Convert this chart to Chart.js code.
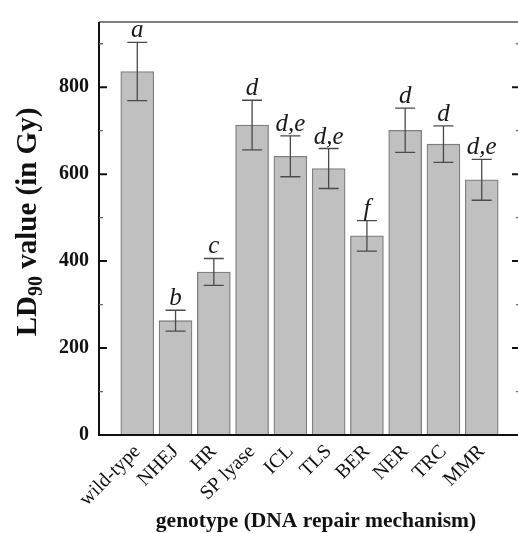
<!DOCTYPE html>
<html>
<head>
<meta charset="utf-8">
<script src="https://cdn.jsdelivr.net/npm/chart.js@4.4.1/dist/chart.umd.min.js"></script>
<style>
  html, body { margin: 0; padding: 0; background: #fff; overflow: hidden; }
  #wrap { width: 522px; height: 533px; }
</style>
</head>
<body>
<div id="wrap"><canvas id="chart" width="522" height="533"></canvas></div>
<script>
const genotypes = ['wild-type', 'NHEJ', 'HR', 'SP lyase', 'ICL', 'TLS', 'BER', 'NER', 'TRC', 'MMR'];
const ld90 = [836, 263, 375, 713, 641, 613, 458, 701, 669, 587];
const ld90Err = [67, 24, 31, 57, 47, 46, 35, 51, 42, 47];
const groups = ['a', 'b', 'c', 'd', 'd,e', 'd,e', 'f', 'd', 'd', 'd,e'];
const yTicks = [0, 200, 400, 600, 800];
const yMinorTicks = [100, 300, 500, 700, 900];

const serif = "'Liberation Serif', 'Times New Roman', serif";

// error bars + group letters
const errorBars = {
    id: 'errorBars',
    afterDatasetsDraw(chart) {
        const ctx = chart.ctx;
        const x = chart.scales.x, y = chart.scales.y;
        ctx.save();
        ld90.forEach((v, i) => {
            const px = x.getPixelForValue(i + 1);
            const top = y.getPixelForValue(v + ld90Err[i]);
            const bot = y.getPixelForValue(v - ld90Err[i]);
            ctx.strokeStyle = '#4a4a4a';
            ctx.lineWidth = 1.3;
            ctx.beginPath();
            ctx.moveTo(px, top); ctx.lineTo(px, bot);
            ctx.moveTo(px - 10, top); ctx.lineTo(px + 10, top);
            ctx.moveTo(px - 10, bot); ctx.lineTo(px + 10, bot);
            ctx.stroke();

            ctx.fillStyle = '#1a1a1a';
            ctx.font = 'italic 25px ' + serif;
            ctx.textAlign = 'center';
            ctx.textBaseline = 'alphabetic';
            ctx.fillText(groups[i], px, top - 5);
        });
        ctx.restore();
    }
};

// frame, inward ticks and axis titles
const frame = {
    id: 'frame',
    afterDraw(chart) {
        const ctx = chart.ctx;
        const a = chart.chartArea;
        const y = chart.scales.y;
        ctx.save();
        // top + right border
        ctx.strokeStyle = '#555';
        ctx.lineWidth = 1.5;
        ctx.beginPath();
        ctx.moveTo(a.left, a.top); ctx.lineTo(a.right, a.top); ctx.lineTo(a.right, a.bottom);
        ctx.stroke();
        // left + bottom axis
        ctx.strokeStyle = '#111';
        ctx.lineWidth = 2;
        ctx.beginPath();
        ctx.moveTo(a.left, a.top); ctx.lineTo(a.left, a.bottom); ctx.lineTo(a.right, a.bottom);
        ctx.stroke();
        // inward ticks
        yTicks.concat(yMinorTicks).forEach(v => {
            const py = y.getPixelForValue(v);
            const major = yTicks.includes(v);
            const len = major ? 8 : 4;
            ctx.lineWidth = major ? 2 : 1.3;
            ctx.strokeStyle = major ? '#111' : '#666';
            ctx.beginPath();
            ctx.moveTo(a.left, py); ctx.lineTo(a.left + len, py);
            ctx.moveTo(a.right, py); ctx.lineTo(a.right - len, py);
            ctx.stroke();
        });

        // y title with subscript
        ctx.fillStyle = '#111';
        ctx.textBaseline = 'alphabetic';
        ctx.textAlign = 'left';
        const big = 'bold 29px ' + serif, small = 'bold 20px ' + serif;
        const parts = [['LD', big, 0], ['90', small, 6], [' value (in Gy)', big, 0]];
        let total = 0;
        parts.forEach(p => { ctx.font = p[1]; total += ctx.measureText(p[0]).width; });
        ctx.translate(36, 222);
        ctx.rotate(-Math.PI / 2);
        let cx = -total / 2;
        parts.forEach(p => {
            ctx.font = p[1];
            ctx.fillText(p[0], cx, p[2]);
            cx += ctx.measureText(p[0]).width;
        });
        ctx.setTransform(1, 0, 0, 1, 0, 0);

        // x title
        ctx.font = 'bold 21.5px ' + serif;
        ctx.textAlign = 'center';
        ctx.fillText('genotype (DNA repair mechanism)', 316, 527);
        ctx.restore();
    }
};

new Chart(document.getElementById('chart'), {
    type: 'bar',
    data: {
        datasets: [{
            data: ld90.map((v, i) => ({ x: i + 1, y: v })),
            backgroundColor: '#c0c0c0',
            borderColor: '#7f7f7f',
            borderWidth: 1.3,
            barThickness: 33
        }]
    },
    options: {
        responsive: false,
        animation: false,
        layout: { padding: { top: 11, right: 2, left: 0, bottom: 0 } },
        plugins: { legend: { display: false }, tooltip: { enabled: false } },
        scales: {
            x: {
                type: 'linear',
                offset: false,
                min: 0, max: 11,
                grid: { display: false, drawTicks: false, offset: false },
                border: { display: false },
                afterBuildTicks: s => { s.ticks = genotypes.map((g, i) => ({ value: i + 1 })); },
                afterFit: s => { s.height = 98; },
                ticks: {
                    autoSkip: false,
                    maxRotation: 45, minRotation: 45,
                    padding: 5,
                    color: '#111',
                    font: { family: serif, size: 20 },
                    callback: v => genotypes[v - 1] || ''
                }
            },
            y: {
                min: 0, max: 950,
                grid: { display: false, drawTicks: false },
                border: { display: false },
                afterBuildTicks: s => { s.ticks = yTicks.map(v => ({ value: v })); },
                afterFit: s => { s.width = 99; },
                ticks: {
                    padding: 10,
                    color: '#111',
                    font: { family: serif, size: 20, weight: 'bold' }
                }
            }
        }
    },
    plugins: [errorBars, frame]
});
</script>
</body>
</html>
